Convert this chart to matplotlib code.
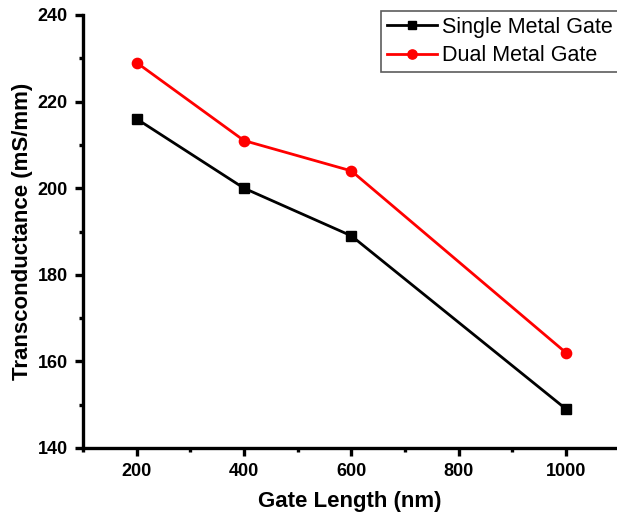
import matplotlib
matplotlib.use("Agg")
import matplotlib.pyplot as plt
from matplotlib.ticker import MultipleLocator

plt.rcParams['font.family'] = ['Liberation Sans', 'DejaVu Sans']

gate_length = [200, 400, 600, 1000]
single_gate = [216, 200, 189, 149]
dual_gate = [229, 211, 204, 162]

W, H = 617, 519
fig = plt.figure(figsize=(W / 100, H / 100), dpi=100)
ax = fig.add_axes([83 / W, (H - 448) / H, (W - 83) / W, (448 - 15) / H])

ax.plot(gate_length, single_gate, color='black', lw=2, marker='s', ms=6.8,
        label='Single Metal Gate')
ax.plot(gate_length, dual_gate, color='red', lw=2, marker='o', ms=7.4,
        label='Dual Metal Gate')

ax.set_xlim(100, 1095)
ax.set_ylim(140, 240)
ax.xaxis.set_major_locator(MultipleLocator(200))
ax.xaxis.set_minor_locator(MultipleLocator(100))
ax.yaxis.set_major_locator(MultipleLocator(20))
ax.yaxis.set_minor_locator(MultipleLocator(10))

for s in ['top', 'right']:
    ax.spines[s].set_visible(False)
for s in ['left', 'bottom']:
    ax.spines[s].set_linewidth(2.4)

ax.tick_params(which='major', direction='out', length=6, width=2.4, pad=5, labelsize=13)
ax.tick_params(which='minor', direction='out', length=3, width=2.4)
for lab in ax.get_xticklabels() + ax.get_yticklabels():
    lab.set_fontweight('bold')

ax.set_xlabel('Gate Length (nm)', fontsize=16, fontweight='bold', labelpad=8)
ax.set_ylabel('Transconductance (mS/mm)', fontsize=16, fontweight='bold', labelpad=3)

leg = ax.legend(loc='upper left', bbox_to_anchor=(381 / W, 1 - 11 / H),
                bbox_transform=fig.transFigure, fontsize=15.5,
                frameon=True, fancybox=False, edgecolor='#333333',
                handlelength=2.3, handletextpad=0.25, borderpad=0.28,
                labelspacing=0.33, borderaxespad=0, markerscale=0.9)
leg.get_frame().set_linewidth(1.2)

fig.savefig('out.png', dpi=100)
